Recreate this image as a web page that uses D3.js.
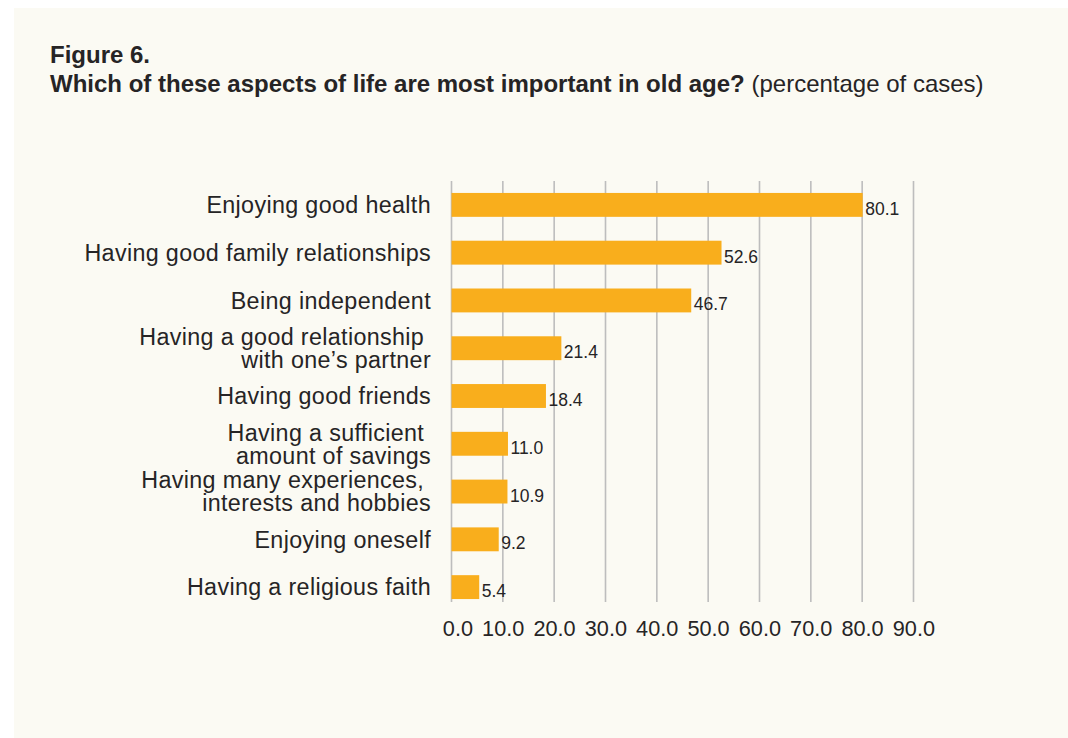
<!DOCTYPE html>
<html>
<head>
<meta charset="utf-8">
<script src="https://cdn.jsdelivr.net/npm/d3@7"></script>
<style>
  html, body { margin: 0; padding: 0; background: #ffffff; }
  svg { display: block; }
  text { font-family: "Liberation Sans", Arial, sans-serif; fill: #262425; }
</style>
</head>
<body>
<svg id="chart" width="1068" height="738"></svg>
<script>
const categories = [
  ["Enjoying good health"],
  ["Having good family relationships"],
  ["Being independent"],
  ["Having a good relationship\u00a0", "with one\u2019s partner"],
  ["Having good friends"],
  ["Having a sufficient\u00a0", "amount of savings"],
  ["Having many experiences,\u00a0", "interests and hobbies"],
  ["Enjoying oneself"],
  ["Having a religious faith"]
];
const values = [80.1, 52.6, 46.7, 21.4, 18.4, 11.0, 10.9, 9.2, 5.4];
const tickValues = [0, 10, 20, 30, 40, 50, 60, 70, 80, 90];
const titleLine1 = "Figure 6.";
const titleBold = "Which of these aspects of life are most important in old age?";
const titleNormal = " (percentage of cases)";

const svg = d3.select("#chart");
svg.append("rect").attr("x", 14).attr("y", 8).attr("width", 1054).attr("height", 730).attr("fill", "#fbfaf3");

svg.append("text").attr("x", 50).attr("y", 63).style("font-weight", "bold").style("font-size", "24px").text(titleLine1);
const t2 = svg.append("text").attr("x", 50).attr("y", 92).style("font-size", "24px");
t2.append("tspan").style("font-weight", "bold").text(titleBold);
t2.append("tspan").text(titleNormal);

const x = d3.scaleLinear().domain([0, 90]).range([451, 913]);
const idx = d3.range(categories.length);
const y = d3.scaleBand().domain(idx).range([181, 611]).paddingInner(0.5).paddingOuter(0.25);

// gridlines + tick labels
const xAxis = d3.axisBottom(x).tickValues(tickValues).tickSize(-(602 - 181)).tickPadding(14).tickFormat(d3.format(".1f"));
const gx = svg.append("g").attr("transform", "translate(0,602)").call(xAxis);
gx.select(".domain").remove();
gx.selectAll(".tick line").attr("stroke", "#bdbdbd").attr("stroke-width", 1.6);
gx.selectAll(".tick text")
  .style("font-size", "21.7px")
  .attr("fill", "#262425")
  .style("font-family", "Liberation Sans, Arial, sans-serif")
  .attr("text-anchor", "end")
  .attr("x", 21.5)
  .attr("y", 34)
  .attr("dy", null);

// bars
svg.append("g").selectAll("rect").data(idx).join("rect")
  .attr("x", x(0) + 0.5)
  .attr("y", i => y(i))
  .attr("width", i => x(values[i]) - x(0))
  .attr("height", y.bandwidth())
  .attr("fill", "#f9ae1c");

// value labels
svg.append("g").selectAll("text").data(idx).join("text")
  .attr("x", i => x(values[i]) + 3)
  .attr("y", i => y(i) + y.bandwidth() - 2)
  .style("font-size", "17.5px")
  .text(i => d3.format(".1f")(values[i]));

// category labels
const lab = svg.append("g").selectAll("text").data(idx).join("text")
  .attr("text-anchor", "end")
  .style("font-size", "23.3px")
  .style("letter-spacing", "0.35px")
  .attr("y", i => y(i) + y.bandwidth() / 2);
lab.each(function(i) {
  const lines = categories[i];
  const n = lines.length;
  const lh = 23;
  lines.forEach((ln, k) => {
    d3.select(this).append("tspan")
      .attr("x", 431)
      .attr("y", y(i) + y.bandwidth() / 2 + (k - (n - 1) / 2) * lh)
      .attr("dy", "0.356em")
      .text(ln);
  });
});
</script>
</body>
</html>
